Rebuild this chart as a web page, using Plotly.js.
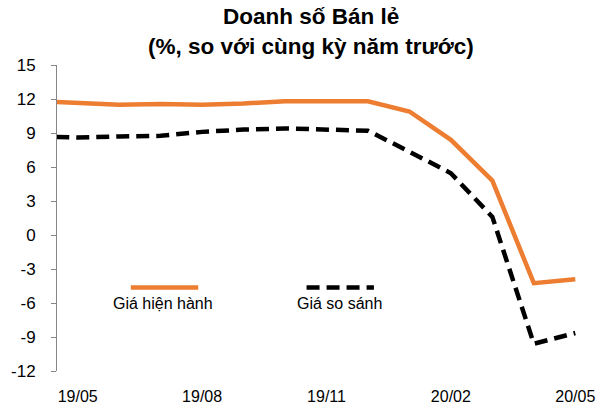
<!DOCTYPE html>
<html>
<head>
<meta charset="utf-8">
<script src="https://cdn.plot.ly/plotly-3.0.1.min.js"></script>
<style>
  html, body { margin: 0; padding: 0; background: #fff; }
  #myDiv { width: 599px; height: 408px; }
</style>
</head>
<body>
<div id="myDiv"></div>
<script>
// Datos (19/04 solo se ve a medias en el borde izquierdo)
var meses = ['19/04', '19/05', '19/06', '19/07', '19/08', '19/09', '19/10',
             '19/11', '19/12', '20/01', '20/02', '20/03', '20/04', '20/05'];
var giaHienHanh = [11.8, 11.65, 11.5, 11.55, 11.5, 11.6, 11.8,
                   11.8, 11.8, 10.9, 8.4, 4.8, -4.25, -3.9];
var giaSoSanh = [8.7, 8.6, 8.7, 8.75, 9.1, 9.3, 9.4,
                 9.3, 9.2, 7.35, 5.45, 1.6, -9.6, -8.65];

var etiquetasX = ['19/05', '19/08', '19/11', '20/02', '20/05'];
var valoresY = [-12, -9, -6, -3, 0, 3, 6, 9, 12, 15];

var titulo1 = 'Doanh số Bán lẻ';
var titulo2 = '(%, so với cùng kỳ năm trước)';

var fuente = 'Liberation Sans, Arial, sans-serif';
var gris = '#868686';

var traceHienHanh = {
    x: meses,
    y: giaHienHanh,
    mode: 'lines',
    name: 'Giá hiện hành',
    line: { color: '#ED7D31', width: 4.5 }
};

var traceSoSanh = {
    x: meses,
    y: giaSoSanh,
    mode: 'lines',
    name: 'Giá so sánh',
    line: { color: '#000000', width: 4.5, dash: '13px,7px' }
};

var data = [traceHienHanh, traceSoSanh];

// posicion de y = 0 dentro del area del grafico
var pos0 = (0 - valoresY[0]) / (valoresY[valoresY.length - 1] - valoresY[0]);

var layout = {
    width: 599,
    height: 408,
    margin: { l: 57, r: 3, t: 65, b: 37 },
    paper_bgcolor: '#ffffff',
    plot_bgcolor: '#ffffff',
    showlegend: false,
    font: { family: fuente, size: 16, color: '#000000' },
    xaxis: {
        type: 'category',
        range: [0.5, 13.5],
        tickvals: etiquetasX,
        ticktext: etiquetasX,
        ticks: '',
        showline: false,
        showgrid: false,
        zeroline: false,
        ticklabelstandoff: 14,
        tickfont: { size: 16 }
    },
    // eje auxiliar: linea del cero con marcas entre categorias
    xaxis2: {
        overlaying: 'x',
        anchor: 'free',
        position: pos0,
        type: 'linear',
        range: [0.5, 13.5],
        tickvals: [0.5, 3.5, 6.5, 9.5, 12.5],
        showticklabels: false,
        ticks: 'outside',
        ticklen: 5,
        tickcolor: gris,
        showline: true,
        linecolor: gris,
        linewidth: 1,
        showgrid: false,
        zeroline: false
    },
    yaxis: {
        range: [-12, 15],
        tickvals: valoresY,
        ticktext: valoresY.map(String),
        ticks: 'outside',
        ticklen: 5,
        tickcolor: gris,
        showline: true,
        linecolor: gris,
        linewidth: 1,
        showgrid: false,
        zeroline: false,
        ticklabelstandoff: 12,
        tickfont: { size: 17 }
    },
    shapes: [
        {
            type: 'line', xref: 'paper', yref: 'paper',
            x0: 0.137, x1: 0.262, y0: 0.273, y1: 0.273,
            line: { color: '#ED7D31', width: 4.5 }
        },
        {
            type: 'line', xref: 'paper', yref: 'paper',
            x0: 0.463, x1: 0.588, y0: 0.273, y1: 0.273,
            line: { color: '#000000', width: 4.5, dash: '13px,7px' }
        }
    ],
    annotations: [
        {
            text: '<b>' + titulo1 + '</b>', xref: 'paper', yref: 'paper',
            x: 0.471, y: 1.157, showarrow: false,
            xanchor: 'center', yanchor: 'middle',
            font: { size: 22.5 }
        },
        {
            text: '<b>' + titulo2 + '</b>', xref: 'paper', yref: 'paper',
            x: 0.471, y: 1.062, showarrow: false,
            xanchor: 'center', yanchor: 'middle',
            font: { size: 22.5 }
        },
        {
            text: 'Giá hiện hành', xref: 'paper', yref: 'paper',
            x: 0.197, y: 0.221, showarrow: false,
            xanchor: 'center', yanchor: 'middle',
            font: { size: 16 }
        },
        {
            text: 'Giá so sánh', xref: 'paper', yref: 'paper',
            x: 0.525, y: 0.221, showarrow: false,
            xanchor: 'center', yanchor: 'middle',
            font: { size: 16 }
        }
    ]
};

var config = { staticPlot: true, responsive: false };

Plotly.newPlot('myDiv', data, layout, config);
</script>
</body>
</html>
